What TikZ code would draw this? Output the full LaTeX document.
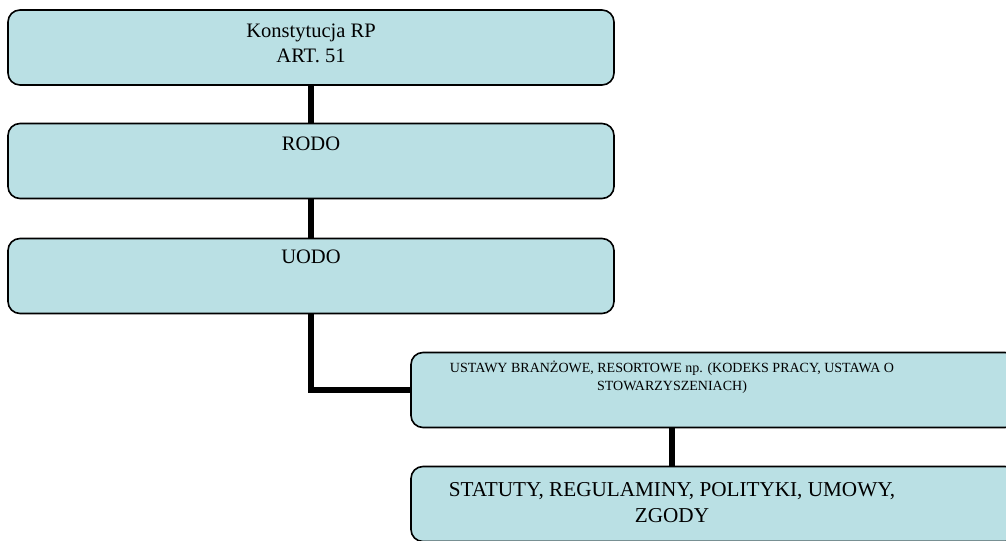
\documentclass[tikz,border=0pt]{standalone}
\usepackage{fontspec}
\setmainfont{Liberation Serif}
\usetikzlibrary{calc}
\definecolor{paleaqua}{RGB}{186,224,228}

\begin{document}
\begin{tikzpicture}[x=0.75pt,y=-0.75pt,
    box/.style={draw=black,line width=1.2pt,fill=paleaqua,rounded corners=9pt,
      minimum width=606*0.75pt,minimum height=75*0.75pt,inner sep=0pt},
    boxtext/.style={align=center,anchor=base,inner sep=0pt},
    conn/.style={line width=3.8pt}
  ]
    \useasboundingbox (0,0) rectangle (1006,541);

    \node[box] (konst) at (311,47.5) {};
\node[box] (rodo) at (311,161) {};
\node[box] (uodo) at (311,276) {};
\node[box] (ustawy) at (714,390) {};
\node[box] (statuty) at (714,504) {};

% base anchor sits on the last line
\node[boxtext,font=\fontsize{15.4}{18.8}\selectfont] (konsttxt) at (311,63) {Konstytucja RP\\ART. 51};
\node[boxtext,font=\fontsize{15.4}{18.8}\selectfont] (rodotxt) at (311,151) {RODO};
\node[boxtext,font=\fontsize{15.4}{18.8}\selectfont] (uodotxt) at (311,264) {UODO};
\node[boxtext,font=\fontsize{10.5}{12.8}\selectfont] (ustawytxt) at (672,390) {USTAWY BRANŻOWE, RESORTOWE np. (KODEKS PRACY, USTAWA O\\STOWARZYSZENIACH)};
\node[boxtext,font=\fontsize{15.9}{18.8}\selectfont] (statutytxt) at (672,522) {STATUTY, REGULAMINY, POLITYKI, UMOWY,\\ZGODY};

\draw[conn] (konst.south) -- (rodo.north);
\draw[conn] (rodo.south) -- (uodo.north);
\draw[conn] (uodo.south) |- (ustawy.west);
\draw[conn] (ustawytxt |- ustawy.south) -- (ustawytxt |- statuty.north);

  \end{tikzpicture}
\end{document}
